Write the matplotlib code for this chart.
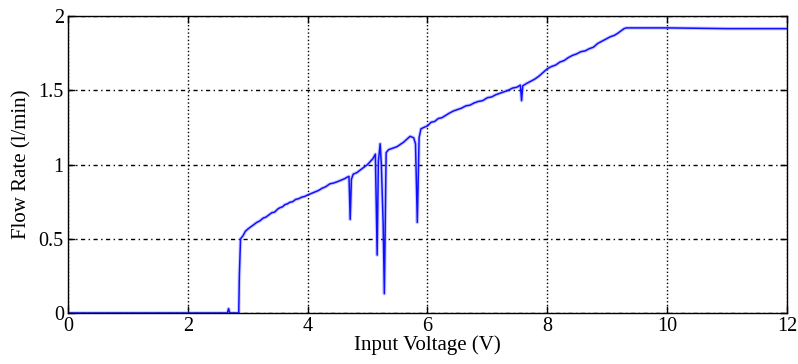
import matplotlib.pyplot as plt

plt.rcParams['font.family'] = ['Liberation Serif', 'DejaVu Serif']

# Flow rate measured while sweeping the pump input voltage
voltage = [0.0, 2.60, 2.66, 2.68, 2.70, 2.85, 2.86, 2.88, 2.92, 2.96, 3.00,
           3.05, 3.10, 3.15, 3.20, 3.26, 3.30, 3.35, 3.40, 3.45, 3.50,
           3.54, 3.58, 3.62, 3.66, 3.70, 3.75, 3.80, 3.85, 3.90, 3.95,
           4.00, 4.06, 4.12, 4.18, 4.24, 4.30, 4.37, 4.43, 4.50, 4.56,
           4.62, 4.66, 4.69, 4.71, 4.73, 4.76, 4.82, 4.90, 5.00, 5.09,
           5.13, 5.16, 5.18, 5.21, 5.23, 5.26, 5.28, 5.31, 5.35, 5.42,
           5.49, 5.60, 5.71, 5.77, 5.80, 5.83, 5.86, 5.89, 5.94, 6.00,
           6.06, 6.12, 6.18, 6.24, 6.30, 6.36, 6.43, 6.50, 6.57, 6.64,
           6.71, 6.78, 6.85, 6.92, 7.00, 7.07, 7.14, 7.21, 7.28, 7.35,
           7.42, 7.49, 7.55, 7.57, 7.59, 7.65, 7.72, 7.79, 7.86, 7.93,
           8.00, 8.07, 8.14, 8.21, 8.28, 8.35, 8.42, 8.49, 8.56, 8.63,
           8.70, 8.77, 8.84, 8.91, 8.98, 9.05, 9.12, 9.18, 9.23, 9.28,
           9.32, 10.0, 11.0, 12.0]
flow = [0.0, 0.0, 0.0, 0.03, 0.0, 0.0, 0.25, 0.50, 0.52, 0.55, 0.565,
        0.58, 0.595, 0.61, 0.62, 0.64, 0.645, 0.66, 0.675, 0.68, 0.70,
        0.71, 0.715, 0.73, 0.735, 0.745, 0.75, 0.765, 0.77, 0.78, 0.785,
        0.795, 0.805, 0.815, 0.825, 0.84, 0.85, 0.87, 0.875, 0.885, 0.895,
        0.905, 0.915, 0.92, 0.63, 0.90, 0.935, 0.945, 0.97, 1.00, 1.04,
        1.07, 0.39, 1.02, 1.14, 1.00, 0.60, 0.13, 1.08, 1.10, 1.11,
        1.12, 1.15, 1.19, 1.18, 1.14, 0.61, 1.18, 1.24, 1.25, 1.26,
        1.285, 1.29, 1.31, 1.315, 1.33, 1.345, 1.36, 1.37, 1.38, 1.395,
        1.40, 1.415, 1.425, 1.43, 1.45, 1.455, 1.47, 1.48, 1.49, 1.50,
        1.515, 1.52, 1.535, 1.43, 1.53, 1.545, 1.56, 1.575, 1.595, 1.62,
        1.645, 1.66, 1.67, 1.69, 1.70, 1.72, 1.735, 1.745, 1.76, 1.765,
        1.78, 1.79, 1.815, 1.83, 1.845, 1.86, 1.87, 1.885, 1.90, 1.915,
        1.92, 1.92, 1.915, 1.915]

x_ticks = [0, 2, 4, 6, 8, 10, 12]
y_ticks = [0, 0.5, 1, 1.5, 2]

fig = plt.figure(figsize=(7.98, 3.64), dpi=100)
ax = fig.add_axes([0.0852, 0.140, 0.901, 0.816])

ax.plot(voltage, flow, color='#5a5aff', linewidth=2.6, alpha=0.3)
ax.plot(voltage, flow, color='#1010ff', linewidth=1.1)

ax.set_xlim(0, 12)
ax.set_ylim(0, 2)
ax.set_xticks(x_ticks)
ax.set_yticks(y_ticks)
ax.set_yticklabels(['0', '0.5', '1', '1.5', '2'])

ax.xaxis.grid(True, color='black', linestyle=':', linewidth=1.0)
ax.yaxis.grid(True, color='black', linestyle=(0, (3, 2.5, 1, 2.5)), linewidth=1.0)
ax.set_axisbelow(True)

ax.tick_params(direction='in', length=5, width=1, top=True, right=True,
               labelsize=14.5, pad=3)
for side in ax.spines.values():
    side.set_linewidth(1.0)

ax.set_xlabel('Input Voltage (V)', fontsize=15, labelpad=-1)
ax.set_ylabel('Flow Rate (l/min)', fontsize=15, labelpad=5)

fig.savefig('out.png', dpi=100)
